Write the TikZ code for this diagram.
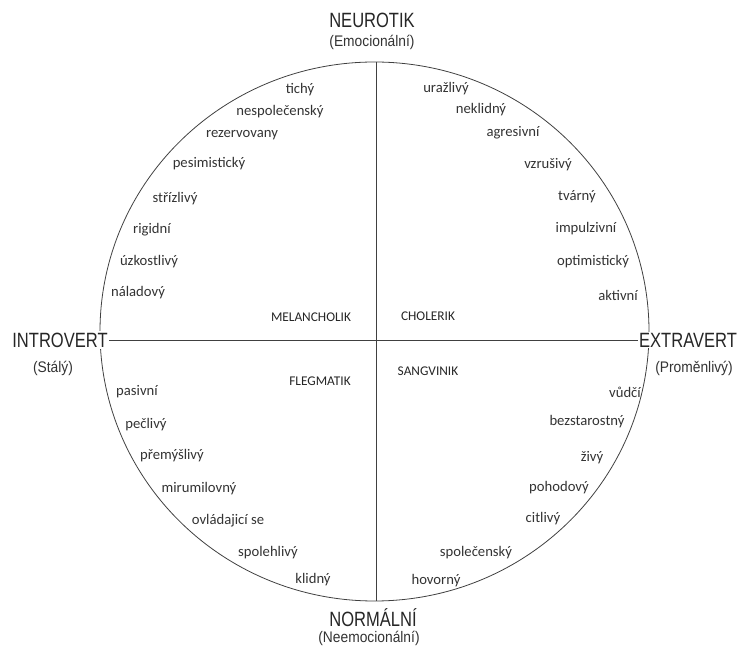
\documentclass[tikz,border=0pt]{standalone}
\usepackage{fontspec}
\setmainfont{Carlito}
\newfontfamily\polefont[FakeStretch=0.8]{Liberation Sans}
\newfontfamily\polesubfont[FakeStretch=0.9]{Liberation Sans}

\begin{document}
\begin{tikzpicture}[x=0.75pt,y=0.75pt,
  trait/.style={font=\fontsize{11}{13}\selectfont, text=black!80, inner sep=1pt},
  temper/.style={font=\fontsize{10}{12}\selectfont, text=black!85, inner sep=1pt},
  pole/.style={font=\polefont\fontsize{15.5}{18}\selectfont, text=black!85, fill=white, inner sep=1pt},
  polesub/.style={font=\polesubfont\fontsize{11.5}{13}\selectfont, text=black!80, fill=white, inner sep=1pt},
  axisline/.style={black!75, line width=0.6pt}]
\useasboundingbox (0,0) rectangle (746,646);

% the circle and its poles
\draw[axisline] (374.5,314.5) ellipse [x radius=274.5, y radius=269.5];
\coordinate (top) at (376,584);
\coordinate (bottom) at (376,45);

\node[pole] (neurotik) at (372,626) {NEUROTIK};
\node[polesub] (emoc) at (372,604) {(Emocionální)};
\node[pole] (normalni) at (373,28) {NORMÁLNÍ};
\node[polesub] (neemoc) at (369,8) {(Neemocionální)};
\node[pole] (introvert) at (60,306) {INTROVERT};
\node[polesub] (staly) at (53,278) {(Stálý)};
\node[pole] (extravert) at (688,306) {EXTRAVERT};
\node[polesub] (promenlivy) at (694,278) {(Proměnlivý)};

\draw[axisline] (introvert) -- (extravert);
\draw[axisline] (top) -- (bottom);

% temperaments
\node[temper] (melancholik) at (311,329) {MELANCHOLIK};
\node[temper] (cholerik) at (428,330) {CHOLERIK};
\node[temper] (flegmatik) at (320,265) {FLEGMATIK};
\node[temper] (sangvinik) at (428,275) {SANGVINIK};

% upper left
\node[trait] (tichy) at (300,556) {tichý};
\node[trait] (nespolecensky) at (280,534) {nespolečenský};
\node[trait] (rezervovany) at (242,511) {rezervovany};
\node[trait] (pesimisticky) at (209,482) {pesimistický};
\node[trait] (strizlivy) at (175,447) {střízlivý};
\node[trait] (rigidni) at (152,416) {rigidní};
\node[trait] (uzkostlivy) at (149,384) {úzkostlivý};
\node[trait] (naladovy) at (138,353) {náladový};

% upper right
\node[trait] (urazlivy) at (446,557) {uražlivý};
\node[trait] (neklidny) at (481,536) {neklidný};
\node[trait] (agresivni) at (513,513) {agresivní};
\node[trait] (vzrusivy) at (548,481) {vzrušivý};
\node[trait] (tvarny) at (577,449) {tvárný};
\node[trait] (impulzivni) at (586,417) {impulzivní};
\node[trait] (optimisticky) at (593,384) {optimistický};
\node[trait] (aktivni) at (618,351) {aktivní};

% lower left
\node[trait] (pasivni) at (137,254) {pasivní};
\node[trait] (peclivy) at (146,221) {pečlivý};
\node[trait] (premyslivy) at (172,190) {přemýšlivý};
\node[trait] (mirumilovny) at (199,157) {mirumilovný};
\node[trait] (ovladajici) at (228,125) {ovládajicí se};
\node[trait] (spolehlivy) at (268,93) {spolehlivý};
\node[trait] (klidny) at (313,66) {klidný};

% lower right
\node[trait] (vudci) at (625,254) {vůdčí};
\node[trait] (bezstarostny) at (587,224) {bezstarostný};
\node[trait] (zivy) at (592,188) {živý};
\node[trait] (pohodovy) at (559,158) {pohodový};
\node[trait] (citlivy) at (543,127) {citlivý};
\node[trait] (spolecensky) at (476,93) {společenský};
\node[trait] (hovorny) at (436,65) {hovorný};
\end{tikzpicture}
\end{document}
